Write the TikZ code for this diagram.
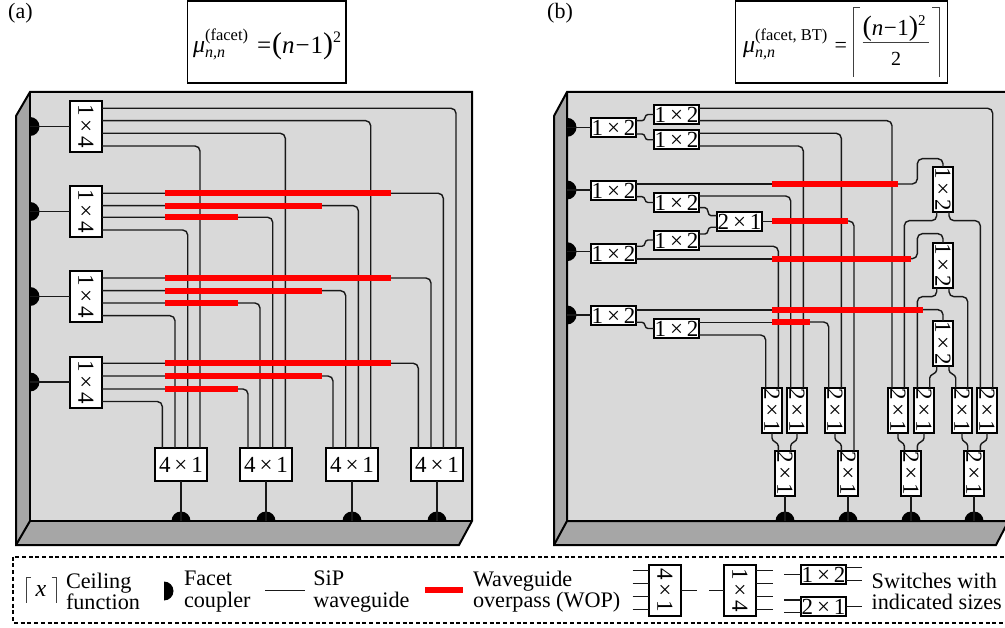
\documentclass[tikz,border=0pt]{standalone}
\usepackage{graphicx}
\usepackage{fontspec}
\setmainfont{Liberation Serif}
\usetikzlibrary{calc}
\definecolor{faceg}{HTML}{D9D9D9}
\definecolor{sideg}{HTML}{A6A6A6}
\newcommand{\vtxt}[1]{\rotatebox[origin=c]{-90}{#1}}
\newcommand{\fsz}[1]{\fontsize{#1}{#1}\selectfont}
\newcommand{\muterm}[1]{{\fsz{24}\itshape μ}\rlap{\raisebox{12.5pt}{\fsz{16.5}#1}}\raisebox{-4.5pt}{\fsz{16}\itshape n,n}}
\tikzset{
  wg/.style={line width=1.4pt,draw=black!90,rounded corners=5pt},
  wgs/.style={line width=1.4pt,draw=black!90},
  wop/.style={line width=6pt,draw=red},
  chip/.style={draw=black,line width=2pt,line join=miter},
  swbase/.style={draw=black,fill=white,line width=2.4pt,inner sep=0pt,outer sep=0pt,font=\fsz{23}},
  swwide/.style={swbase,minimum width=45pt,minimum height=19pt},
  swtall/.style={swbase,minimum width=20pt,minimum height=45pt},
  swfour/.style={swbase,minimum width=32pt,minimum height=51pt},
  swfourh/.style={swbase,minimum width=52pt,minimum height=33pt},
  leg/.style={inner sep=0pt,outer sep=0pt,align=left,anchor=west,font=\fontsize{22.2}{21.6}\selectfont},
  frm/.style={draw=black,line width=1.3pt},
  thinb/.style={draw=black!75,line width=.9pt},
  eqn/.style={inner sep=0pt,outer sep=0pt,anchor=base west},
}
\begin{document}
\begin{tikzpicture}[x=1pt,y=1pt,yscale=-1]
\useasboundingbox (0,0) rectangle (1005,628);
\clip (0,0) rectangle (1005,628);

% labels and formula boxes
\node[inner sep=0pt,anchor=west,font=\fsz{22}] (la) at (8,13) {(a)};
\node[inner sep=0pt,anchor=west,font=\fsz{22}] (lb) at (547,13) {(b)};
\draw[frm] (187.5,1) rectangle (346,83);
\draw[frm] (735.5,1) rectangle (947.5,83);
\node[eqn] (fa) at (193,53) {\muterm{(facet)}};
\node[eqn,font=\fsz{25}] (fa2) at (257,54) {=\kern1pt{\fsz{30}(}{\itshape n}\kern1pt−\kern1pt1{\fsz{30})}\raisebox{11pt}{\fsz{16}2}};
\node[eqn] (fb) at (743,53) {\muterm{(facet, BT)}};
\node[eqn,font=\fsz{22}] (fb2) at (834.5,53) {=};
\node[eqn,font=\fsz{23}] (fbn) at (862.5,36) {{\fsz{28}(}{\itshape n}\kern.5pt−\kern.5pt1{\fsz{28})}\raisebox{10pt}{\fsz{15}2}};
\node[eqn,font=\fsz{20}] (fbd) at (891,66) {2};
\draw[thinb] (fbn.south west |- 0,42.3) -- (929.3,42.3);
\draw[thinb] (860,7.5) -- (853,7.5) -- (853,77);
\draw[thinb] (932,7.5) -- (939.3,7.5) -- (939.3,77);

% ---------- chip (a)
\fill[sideg] (30,92) -- (16,116) -- (16,545) -- (30,521) -- cycle;
\fill[sideg] (16,545) -- (30,521) -- (472,521) -- (459,545) -- cycle;
\fill[faceg] (30,92) rectangle (472,521);
\draw[chip] (30,92) -- (16,116) -- (16,545) -- (459,545) -- (472,521) -- (472,92) -- cycle;
\draw[chip] (30,92) -- (30,521) -- (472,521);
\draw[chip] (16,545) -- (30,521);

% couplers (a) and switches
\foreach \i/\c/\b in {1/126.5/126.5,2/211.5/211.5,3/296.5/296.5,4/382/382.5}{
  \coordinate (ca\i) at (30,\c);
  \node[swfour] (a\i) at (86,\b) {\vtxt{1\,×\,4}};
  \fill[black] (ca\i)+(0,9.5) arc[start angle=90,end angle=-90,radius=9.5];
  \draw[wg] (ca\i) -- (a\i.west |- ca\i);
}
\foreach \i/\x in {1/181,2/266,3/352,4/437}{
  \node[swfourh] (m\i) at (\x,464.5) {4\,×\,1};
  \coordinate (cm\i) at (\x,521);
  \fill[black] (cm\i)+(-9.5,0) arc[start angle=180,end angle=360,radius=9.5];
  \draw[wg] (m\i) -- (cm\i);
}
\foreach \s/\y/\d/\x in {
  a1/108.3/m4/456, a1/120.7/m3/370.7, a1/133.3/m2/285.3, a1/146/m1/200,
  a2/193.3/m4/443.3, a2/205.7/m3/358.3, a2/217.3/m2/272.7, a2/230/m1/187.7,
  a3/278/m4/431, a3/290.7/m3/345.7, a3/303/m2/260, a3/315.7/m1/175,
  a4/363.3/m4/418.3, a4/376/m3/333, a4/389/m2/248, a4/401.5/m1/162.3}{
  \draw[wg] (\s.east |- 0,\y) -| (\d.north -| \x,0);
}
\foreach \y/\e in {193.3/391,205.7/321.7,217.3/238,
                   278/391,290.7/321.7,303/238,
                   363.3/391,376/321.7,389/238}{
  \draw[wop] (165,\y) -- (\e,\y);
}

% ---------- chip (b)
\fill[sideg] (567,92) -- (554,116) -- (554,545) -- (567,521) -- cycle;
\fill[sideg] (554,545) -- (567,521) -- (1008.5,521) -- (996,545) -- cycle;
\fill[faceg] (567,92) rectangle (1012,521);
\draw[chip] (1012,92) -- (567,92) -- (554,116) -- (554,545) -- (996,545) -- (1008.5,521) -- (567,521) -- (567,92);
\draw[chip] (554,545) -- (567,521);

% couplers, left side
\foreach \i/\c/\b in {1/127.3/127.5,2/190/190.5,3/251.7/253.5,4/315/315.5}{
  \coordinate (cp\i) at (567,\c);
  \node[swwide] (pa\i) at (613.5,\b) {1\,×\,2};
  \fill[black] (cp\i)+(0,9.5) arc[start angle=90,end angle=-90,radius=9.5];
  \draw[wg] (cp\i) -- (pa\i.west |- cp\i);
}
\foreach \i/\c in {1/114.5,2/139.5,3/202.5,4/240.5,5/328.5}{
  \node[swwide] (pb\i) at (676.5,\c) {1\,×\,2};
}
\node[swwide] (pc) at (739.5,221.5) {2\,×\,1};
\foreach \i/\c in {1/189.5,2/265.5,3/343.5}{
  \node[swtall] (pd\i) at (943,\c) {\vtxt{1\,×\,2}};
}
\foreach \i/\x in {1/772,2/797,3/835,4/898,5/924,6/962,7/987}{
  \node[swtall] (pr\i) at (\x,410.5) {\vtxt{2\,×\,1}};
}
\foreach \i/\x in {1/785,2/848,3/911,4/974}{
  \node[swtall] (ps\i) at (\x,473.5) {\vtxt{2\,×\,1}};
  \coordinate (cs\i) at (\x,521);
  \fill[black] (cs\i)+(-9.5,0) arc[start angle=180,end angle=360,radius=9.5];
  \draw[wg] (ps\i) -- (cs\i);
}
% horizontal S-bends
\foreach \s/\ya/\d/\yb in {pa1/120.7/pb1/114.5, pa1/134/pb2/139.8,
                           pa2/196.7/pb3/202.5, pa3/246.3/pb4/240, pa4/322.3/pb5/328.5}{
  \draw[wgs] (\s.east |- 0,\ya) -- ++(6,0) .. controls +(4,0) and +(-4,0) .. ($(\d.west |- 0,\yb)+(-6,0)$) -- (\d.west |- 0,\yb);
}
\draw[wgs] (pb3.east |- 0,207.7) -- ++(6,0) .. controls +(4,0) and +(-4,0) .. ($(pc.west |- 0,215.7)+(-6,0)$) -- (pc.west |- 0,215.7);
\draw[wgs] (pb4.east |- 0,234) -- ++(6,0) .. controls +(4,0) and +(-4,0) .. ($(pc.west |- 0,227.3)+(-6,0)$) -- (pc.west |- 0,227.3);
% vertical S-bends
\foreach \s/\d/\x in {pr1/ps1/778.3, pr2/ps1/790.7, pr3/ps2/841.3, pr4/ps3/904.3,
                      pr5/ps3/917.3, pr6/ps4/967.7, pr7/ps4/980.3}{
  \draw[wgs] (\s.south) -- ++(0,5) .. controls +(0,4) and +(0,-4) .. ($(\d.north -| \x,0)+(0,-5)$) -- (\d.north -| \x,0);
}
\draw[wgs] (pd3.south -| 936.7,0) -- ++(0,4) .. controls +(0,4) and +(0,-4) .. (929.7,378) -- (pr5.north -| 929.7,0);
\draw[wgs] (pd3.south -| 949,0) -- ++(0,4) .. controls +(0,4) and +(0,-4) .. (955.7,378) -- (pr6.north -| 955.7,0);
% straight routes down to the 2x1 switches
\foreach \s/\y/\d/\x in {
  pb1/108.3/pr7/992.7, pb1/120.7/pr4/892, pb2/133.3/pr3/841.3, pb2/146/pr2/803.3,
  pb3/196/pr2/790.7, pb4/246.3/pr1/778.3, pb5/335/pr1/765.7}{
  \draw[wg] (\s.east |- 0,\y) -| (\d.north -| \x,0);
}
\draw[wg] (pc.east) -- (772,221.5);
\draw[wg] (847.7,221) -| (ps2.north -| 854,0);
\draw[wg] (810,322) -| (pr3.north -| 828.7,0);
\draw[wg] (pa2.east |- 0,184) -- (772,184);
\draw[wg] (pa3.east |- 0,259) -- (772,259);
\draw[wg] (pa4.east |- 0,310) -- (772,310);
\draw[wg] (pb5.east |- 0,322.3) -- (772,322.3);
\draw[wg] (898,184) -- (917.3,184) -- (917.3,158.7) -- (943,158.7) -- (pd1.north);
\draw[wg] (910.5,258.7) -- (917.3,258.7) -- (917.3,233.7) -- (943,233.7) -- (pd2.north);
\draw[wg] (923,309.7) -- (943,309.7) -- (pd3.north);
% splits of the tall 1x2 switches
\draw[wg] (pd1.south -| 936.7,0) -- (936.7,220.7) -| (pr4.north -| 904.3,0);
\draw[wg] (pd1.south -| 949,0) -- (949,220.7) -| (pr7.north -| 980.3,0);
\draw[wg] (pd2.south -| 936.7,0) -- (936.7,296.7) -| (pr5.north -| 917.3,0);
\draw[wg] (pd2.south -| 949,0) -- (949,296.7) -| (pr6.north -| 967.7,0);
\foreach \y/\a/\e in {183.7/772/898.3, 220.7/772/847.7, 258.7/772/910.7, 309.7/772/923.3, 322/772/810}{
  \draw[wop] (\a,\y) -- (\e,\y);
}

% ---------- legend
\draw[draw=black,line width=2pt,dash pattern=on 4pt off 2.7pt] (13,556.7) rectangle (1012,622.7);
\draw[thinb] (31,577.7) -- (26,577.7) -- (26,603);
\draw[thinb] (51.5,577.7) -- (56.7,577.7) -- (56.7,603);
\node[inner sep=0pt,font=\fontsize{24}{24}\itshape\selectfont] (lx) at (41,591) {x};
\node[leg] (l1) at (66,591.5) {Ceiling\\function};
\coordinate (lc) at (164,591);
\fill[black] (lc)+(0,9.5) arc[start angle=90,end angle=-90,radius=9.5];
\node[leg] (l2) at (184,591.5) {Facet\\coupler};
\coordinate (lw1) at (265.3,590.3); \coordinate (lw2) at (304.7,590.3);
\draw[wg] (lw1) -- (lw2);
\node[leg] (l3) at (313.3,591.5) {SiP\\waveguide};
\coordinate (lr1) at (425,590.3); \coordinate (lr2) at (462.7,590.3);
\draw[wop] (lr1) -- (lr2);
\node[leg] (l4) at (473,591.5) {Waveguide\\overpass (WOP)};

\node[swfour] (lf) at (665,590.5) {\vtxt{4\,×\,1}};
\foreach \y in {570.7,583.3,596.7,609.3}{ \draw[wg] (632.7,\y) -- (lf.west |- 0,\y); }
\draw[wg] (lf.east) -- (697.3,590.5);
\node[swfour] (lg) at (740,590.5) {\vtxt{1\,×\,4}};
\draw[wg] (709,590.5) -- (lg.west);
\foreach \y in {570.7,583.3,596.7,609.3}{ \draw[wg] (lg.east |- 0,\y) -- (773.3,\y); }
\node[swwide] (lh) at (823.5,574.5) {1\,×\,2};
\draw[wg] (784.3,574.5) -- (lh.west);
\foreach \y in {567.7,580.7}{ \draw[wg] (lh.east |- 0,\y) -- (861.7,\y); }
\node[swwide] (li) at (823.5,606.5) {2\,×\,1};
\draw[wg] (li.east) -- (861.7,606.5);
\foreach \y in {600,612.7}{ \draw[wg] (784.3,\y) -- (li.west |- 0,\y); }
\node[leg] (l5) at (871.7,591.5) {Switches with\\indicated sizes};
\end{tikzpicture}
\end{document}
